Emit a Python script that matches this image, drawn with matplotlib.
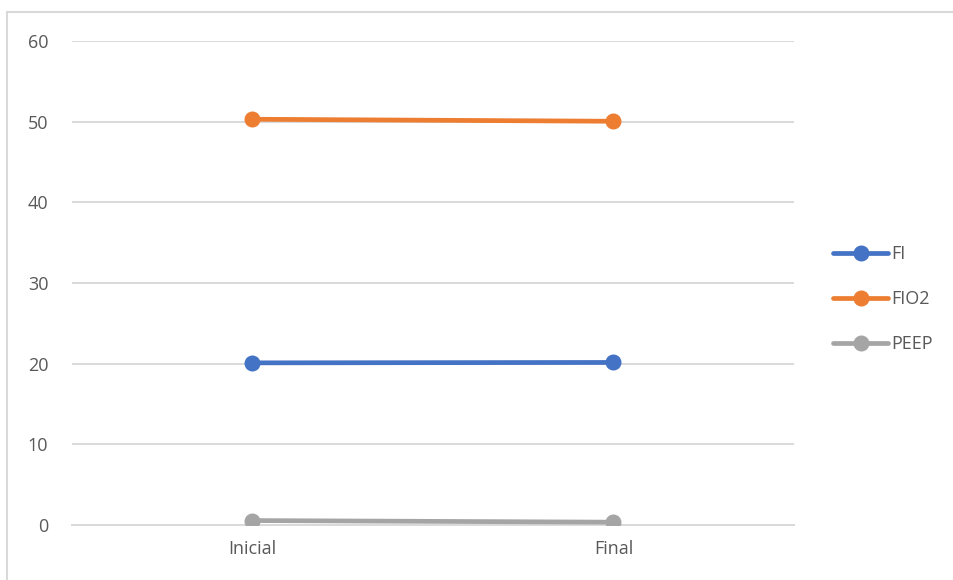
import matplotlib
matplotlib.use('Agg')

import matplotlib.pyplot as plt
from matplotlib.lines import Line2D

# Series values
categories = ['Inicial', 'Final']
fi = [20.1, 20.15]
fio2 = [50.3, 50.05]
peep = [0.55, 0.35]
y_ticks = [0, 10, 20, 30, 40, 50, 60]

SERIES = [
    ('FI', fi, '#4472C4'),
    ('FIO2', fio2, '#ED7D31'),
    ('PEEP', peep, '#A5A5A5'),
]

TEXT_COLOR = '#595959'
GRID_COLOR = '#D9D9D9'

plt.rcParams['font.family'] = ['Open Sans', 'DejaVu Sans']

fig = plt.figure(figsize=(9.54, 5.80), dpi=100)
ax = fig.add_axes([72 / 954, 55 / 580, 722 / 954, 484 / 580])

# Chart-area border: only the top and left edges fall inside the image
bx, by = 7.5 / 954, (580 - 11.5) / 580
fig.lines.append(Line2D([bx, 1.0], [by, by], transform=fig.transFigure,
                        color=GRID_COLOR, linewidth=1.5))
fig.lines.append(Line2D([bx, bx], [0.0, by], transform=fig.transFigure,
                        color=GRID_COLOR, linewidth=1.5))

x = list(range(len(categories)))
for name, vals, color in SERIES:
    ax.plot(x, vals, color=color, linewidth=3.4, marker='o', markersize=10.5,
            label=name, solid_capstyle='round', zorder=3)

ax.set_xlim(-0.5, len(categories) - 0.5)
ax.set_ylim(0, 60)
ax.set_yticks(y_ticks)
ax.set_xticks(x)
ax.set_xticklabels(categories)

ax.grid(axis='y', color=GRID_COLOR, linewidth=1.4)
ax.set_axisbelow(True)
for side in ('top', 'right', 'left'):
    ax.spines[side].set_visible(False)
ax.spines['bottom'].set_color(GRID_COLOR)
ax.spines['bottom'].set_linewidth(1.4)

ax.tick_params(axis='both', length=0, labelsize=13, labelcolor=TEXT_COLOR)
ax.tick_params(axis='y', pad=17)
ax.tick_params(axis='x', pad=11)

leg = ax.legend(loc='center left', bbox_to_anchor=(833 / 954, (580 - 299) / 580),
                bbox_transform=fig.transFigure, frameon=False, fontsize=13,
                handlelength=3.05, handletextpad=0.2, labelspacing=1.5,
                borderpad=0, borderaxespad=0)
for t in leg.get_texts():
    t.set_color(TEXT_COLOR)

fig.savefig('out.png', dpi=100)
plt.close(fig)
